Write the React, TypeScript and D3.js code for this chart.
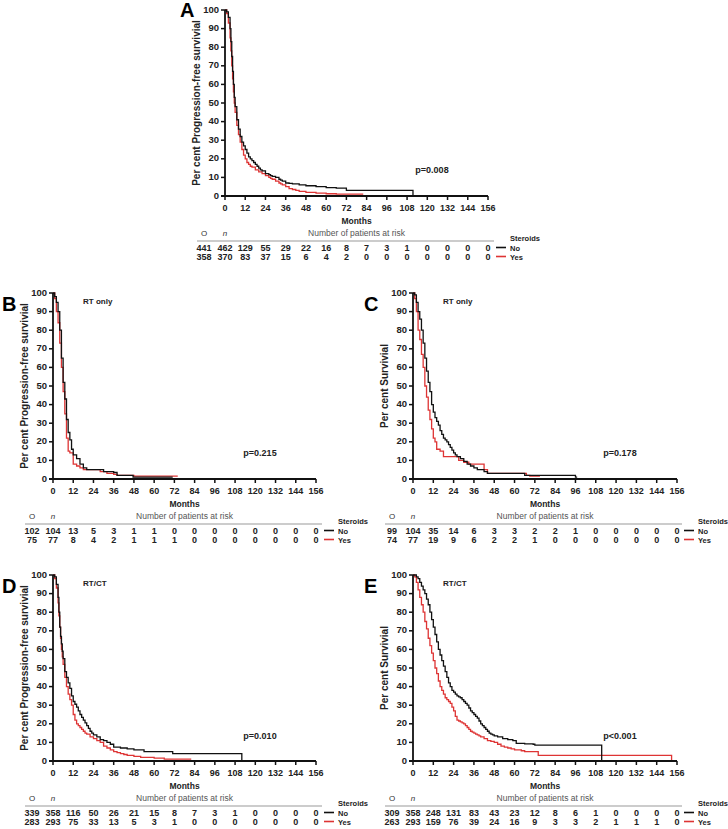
import React from "react";
import * as d3 from "d3";

// ---------- DATA ----------
const monthTicks = [0, 12, 24, 36, 48, 60, 72, 84, 96, 108, 120, 132, 144, 156];
const percentTicks = [0, 10, 20, 30, 40, 50, 60, 70, 80, 90, 100];
const groups = ["No", "Yes"];

// Kaplan-Meier step points [month, percent]
const aNo: [number, number][] = [[0,100],[1,99],[2,96],[3,90],[3.5,83],[4,75],[4.5,67],[5,60],[5.5,53],[6,48],[7,41],[8,36],[9,32],[10,29],[11,27],[12,25],[13,23],[14,21],[15,20],[16,19],[17,18],[18,17],[19,16],[20,15],[21,14],[22,13.5],[24,12],[26,11.5],[27,11],[28,10.5],[30,10],[32,9],[33,8.5],[34,8],[36,7],[38,6.8],[40,6.5],[44,6],[48,5.5],[54,5],[60,4.5],[66,4.2],[72,3],[111.5,3],[111.5,0]];
const aYes: [number, number][] = [[0,100],[1,98],[2,93],[3,85],[3.5,78],[4,70],[4.5,63],[5,56],[5.5,50],[6,45],[7,38],[8,33],[9,29],[10,25],[11,22],[12,20],[13,18],[14,17],[15,16],[16,15.5],[18,14],[20,13],[22,12],[24,11],[26,10],[27,9.5],[28,9],[30,8],[32,7],[33,6.5],[34,6],[36,5],[38,4],[40,3.5],[42,3],[44,2.5],[48,2],[54,1.5],[60,1.2],[66,1],[82,1]];

const bNo: [number, number][] = [[0,100],[1,98],[2,95],[3,90],[4,80],[5,65],[6,52],[7,43],[8,32],[9,25],[10,21],[11,16],[12,13],[14,11],[16,8],[18,6],[20,5],[28,5],[30,4],[36,3.5],[38,2],[47.5,2],[47.5,1],[71,1]];
const bYes: [number, number][] = [[0,100],[1,97],[2,90],[3,84],[4,73],[5,60],[6,47],[7,35],[8,22],[9,15],[10,14],[12,8],[14,7],[16,6],[18,5],[26,5],[28,4],[32,3],[36,2.5],[38,2],[48,1.5],[74,1.5]];

const cNo: [number, number][] = [[0,100],[1,99],[2,95],[3,90],[4,86],[5,80],[6,73],[7,65],[8,58],[9,52],[10,47],[11,40],[12,36],[13,33],[14,31],[15,29],[16,26],[17,24],[18,22],[19,21],[20,20],[21,18.5],[22,17],[23,15.5],[24,14],[25,13],[26,12],[28,11],[30,9.5],[32,8],[34,7],[36,6],[38,5],[42,4],[44,3],[66,3],[66,2],[96,2],[96,1],[97,1]];
const cYes: [number, number][] = [[0,100],[1,97],[2,90],[3,80],[4,75],[5,67],[6,60],[7,50],[8,44],[9,37],[10,32],[11,27],[12,22],[13,20],[14,16],[16,15],[18,12],[26,12],[27,10],[30,9],[33,8],[41.5,8],[42,5],[44,3],[66,3],[67,2],[69,1.5],[75,1.5]];

const dNo: [number, number][] = [[0,100],[1,99],[2,95],[3,88],[3.5,80],[4,72],[4.5,67],[5,63],[5.5,59],[6,55],[7,48],[8,45],[9,42],[10,39],[11,35],[12,32],[13,30.5],[14,29],[15,27],[16,25],[17,23.5],[18,22],[19,20.5],[20,19],[21,17.5],[22,16],[23,15],[24,14],[26,13],[28,11.5],[30,11],[32,10],[34,9],[36,7.5],[40,7],[44,6.5],[48,6],[54,5],[71,5],[71,4],[112,4],[112,0]];
const dYes: [number, number][] = [[0,100],[1,98],[2,93],[3,85],[3.5,78],[4,72],[4.5,66],[5,60],[5.5,56],[6,52],[7,45],[8,40],[9,36],[10,33],[11,30],[12,25],[13,22],[14,20],[15,19],[16,18],[17,17],[18,16],[19,15],[20,14.5],[22,13],[24,12],[26,11],[28,10],[30,8],[32,7],[34,6],[36,5],[38,4.5],[40,4],[42,3.5],[44,3],[48,2.5],[52,2],[60,1.5],[66,1],[82,1]];

const eNo: [number, number][] = [[0,100],[1,100],[2,99],[3,98],[4,96],[5,94],[6,92],[7,90],[8,87],[9,84],[10,80],[11,76],[12,72],[13,68],[14,64],[15,60],[16,57],[17,54],[18,51],[19,48],[20,45],[21,42],[22,40],[23,38],[24,37],[25,36],[26,35],[27,34.5],[28,34],[29,33],[30,32],[31,31],[32,30],[33,28.5],[34,27],[35,26],[36,25],[37,24],[38,23],[39,21.5],[40,20],[41,19],[42,18],[43,17],[44,16],[45,15],[46,14.5],[47,14],[48,13.5],[50,13],[53,12],[56,11.5],[59,11],[61,9.5],[66,9.2],[71,9],[72,8.5],[111.5,8.5],[111.5,0]];
const eYes: [number, number][] = [[0,100],[1,99],[2,96],[3,92],[4,88],[5,84],[6,80],[7,75],[8,71],[9,66],[10,62],[11,58],[12,54],[13,50],[14,47],[15,43],[16,40],[17,38],[18,36],[19,34],[20,33],[21,32],[22,31],[23,29],[24,27],[25,24],[26,22],[27,21.5],[28,21],[29,20.5],[30,20],[31,19],[32,18],[33,17],[34,16],[35,15.5],[36,15],[37,14.5],[38,14],[39,13.5],[40,13],[42,12],[44,11],[46,10.5],[48,10],[50,9],[52,8],[54,7.5],[56,7],[58,6.5],[60,6],[64,5.5],[66,5],[72,5],[74,3],[152.8,3],[152.8,0]];

// Risk tables: [O, n, then at-risk at 12..156]
const riskANo = [441, 462, 129, 55, 29, 22, 16, 8, 7, 3, 1, 0, 0, 0, 0];
const riskAYes = [358, 370, 83, 37, 15, 6, 4, 2, 0, 0, 0, 0, 0, 0, 0];
const riskBNo = [102, 104, 13, 5, 3, 1, 1, 0, 0, 0, 0, 0, 0, 0, 0];
const riskBYes = [75, 77, 8, 4, 2, 1, 1, 1, 0, 0, 0, 0, 0, 0, 0];
const riskCNo = [99, 104, 35, 14, 6, 3, 3, 2, 2, 1, 0, 0, 0, 0, 0];
const riskCYes = [74, 77, 19, 9, 6, 2, 2, 1, 0, 0, 0, 0, 0, 0, 0];
const riskDNo = [339, 358, 116, 50, 26, 21, 15, 8, 7, 3, 1, 0, 0, 0, 0];
const riskDYes = [283, 293, 75, 33, 13, 5, 3, 1, 0, 0, 0, 0, 0, 0, 0];
const riskENo = [309, 358, 248, 131, 83, 43, 23, 12, 8, 6, 1, 0, 0, 0, 0];
const riskEYes = [263, 293, 159, 76, 39, 24, 16, 9, 3, 3, 2, 1, 1, 1, 0];

const pA = "p=0.008";
const pB = "p=0.215";
const pC = "p=0.178";
const pD = "p=0.010";
const pE = "p<0.001";

const pfsLabel = "Per cent Progression-free survivial";
const osLabel = "Per cent Survivial";

// ---------- LAYOUT ----------
const FONT = "'Liberation Sans', Arial, sans-serif";
const BLACK = "#111";
const RED = "#de3434";

type PanelCfg = {
  letter: string; letterX: number; letterY: number;
  x0: number; y0: number; yTop: number; w: number;
  yLabel: string; sub?: string;
  no: [number, number][]; yes: [number, number][];
  riskNo: number[]; riskYes: number[];
  p: string; pX: number; pY: number;
};

const panels: PanelCfg[] = [
  { letter: "A", letterX: 180, letterY: 17, x0: 225, y0: 196, yTop: 10, w: 263, yLabel: pfsLabel, no: aNo, yes: aYes, riskNo: riskANo, riskYes: riskAYes, p: pA, pX: 432, pY: 173 },
  { letter: "B", letterX: 2, letterY: 311, x0: 53, y0: 479, yTop: 293, w: 263, yLabel: pfsLabel, sub: "RT only", no: bNo, yes: bYes, riskNo: riskBNo, riskYes: riskBYes, p: pB, pX: 260, pY: 456 },
  { letter: "C", letterX: 364, letterY: 311, x0: 413, y0: 479, yTop: 293, w: 264, yLabel: osLabel, sub: "RT only", no: cNo, yes: cYes, riskNo: riskCNo, riskYes: riskCYes, p: pC, pX: 620, pY: 456 },
  { letter: "D", letterX: 2, letterY: 593, x0: 53, y0: 761, yTop: 575, w: 263, yLabel: pfsLabel, sub: "RT/CT", no: dNo, yes: dYes, riskNo: riskDNo, riskYes: riskDYes, p: pD, pX: 260, pY: 739 },
  { letter: "E", letterX: 364, letterY: 593, x0: 413, y0: 761, yTop: 575, w: 264, yLabel: osLabel, sub: "RT/CT", no: eNo, yes: eYes, riskNo: riskENo, riskYes: riskEYes, p: pE, pX: 620, pY: 739 },
];

function Panel({ c }: { c: PanelCfg }) {
  const x = d3.scaleLinear().domain([0, 156]).range([c.x0, c.x0 + c.w]);
  const y = d3.scaleLinear().domain([0, 100]).range([c.y0, c.yTop]);
  const line = d3.line<[number, number]>().x(d => x(d[0])).y(d => y(d[1])).curve(d3.curveStepAfter);
  const midX = (c.x0 + c.x0 + c.w) / 2;
  const midY = (c.y0 + c.yTop) / 2;
  const colX = [c.x0 - 21, ...monthTicks.map(m => x(m))];
  const rows = [c.riskNo, c.riskYes];
  return (
    <g fontFamily={FONT}>
      <text x={c.letterX} y={c.letterY} fontSize={20} fontWeight="bold" fill="#000">{c.letter}</text>
      {c.sub && <text x={c.x0 + 30} y={c.yTop + 11} fontSize={8} fontWeight="bold" fill="#222">{c.sub}</text>}
      <text transform={`translate(${c.x0 - 28},${midY}) rotate(-90)`} textAnchor="middle" dominantBaseline="middle" fontSize={10} fontWeight="bold" fill="#222">{c.yLabel}</text>
      {/* curves */}
      <path d={line(c.yes) || ""} fill="none" stroke={RED} strokeWidth={1.3} />
      <path d={line(c.no) || ""} fill="none" stroke={BLACK} strokeWidth={1.3} />
      {/* y axis */}
      <line x1={c.x0} x2={c.x0} y1={c.yTop} y2={c.y0} stroke="#111" strokeWidth={1.8} />
      {percentTicks.map(t => (
        <g key={t}>
          <line x1={c.x0 - 4} x2={c.x0} y1={y(t)} y2={y(t)} stroke="#111" strokeWidth={1.5} />
          <text x={c.x0 - 6} y={y(t)} textAnchor="end" dominantBaseline="middle" fontSize={9.5} fontWeight="bold" fill="#222">{t}</text>
        </g>
      ))}
      {/* x axis */}
      <line x1={c.x0 - 4} x2={c.x0 + c.w} y1={c.y0} y2={c.y0} stroke="#111" strokeWidth={1.8} />
      {monthTicks.map(t => (
        <g key={t}>
          <line x1={x(t)} x2={x(t)} y1={c.y0} y2={c.y0 + 4} stroke="#111" strokeWidth={1.5} />
          <text x={x(t)} y={c.y0 + 15} textAnchor="middle" fontSize={9} fontWeight="bold" fill="#222">{t}</text>
        </g>
      ))}
      <text x={midX} y={c.y0 + 28} textAnchor="middle" fontSize={8.5} fontWeight="bold" fill="#222">Months</text>
      <text x={c.pX} y={c.pY} textAnchor="middle" fontSize={9} fontWeight="bold" fill="#222">{c.p}</text>
      {/* risk table */}
      <text x={c.x0 - 21} y={c.y0 + 40} textAnchor="middle" fontSize={8} fill="#333">O</text>
      <text x={c.x0} y={c.y0 + 40} textAnchor="middle" fontSize={8} fontStyle="italic" fill="#333">n</text>
      <text x={midX} y={c.y0 + 40} textAnchor="middle" fontSize={8.5} fill="#555">Number of patients at risk</text>
      <line x1={c.x0 - 28} x2={c.x0 + 269} y1={c.y0 + 45} y2={c.y0 + 45} stroke="#bbb" strokeWidth={1.5} />
      {rows.map((r, ri) => (
        <g key={ri}>
          {r.map((v, i) => (
            <text key={i} x={colX[i]} y={c.y0 + 55 + ri * 9} textAnchor="middle" fontSize={9} fontWeight="bold" fill="#222">{v}</text>
          ))}
        </g>
      ))}
      {/* legend */}
      <text x={c.x0 + 285} y={c.y0 + 45} fontSize={7.5} fontWeight="bold" fill="#222">Steroids</text>
      {groups.map((g, i) => (
        <g key={g}>
          <line x1={c.x0 + 271} x2={c.x0 + 281} y1={c.y0 + 51.5 + i * 9} y2={c.y0 + 51.5 + i * 9} stroke={i === 0 ? BLACK : RED} strokeWidth={1.6} />
          <text x={c.x0 + 285} y={c.y0 + 54.5 + i * 9} fontSize={7.5} fontWeight="bold" fill="#222">{g}</text>
        </g>
      ))}
    </g>
  );
}

export default function App() {
  return (
    <svg width={728} height={829} style={{ position: "absolute", left: 0, top: 0, background: "#fff" }}>
      <rect width={728} height={829} fill="#fff" />
      {panels.map(p => <Panel key={p.letter} c={p} />)}
    </svg>
  );
}
